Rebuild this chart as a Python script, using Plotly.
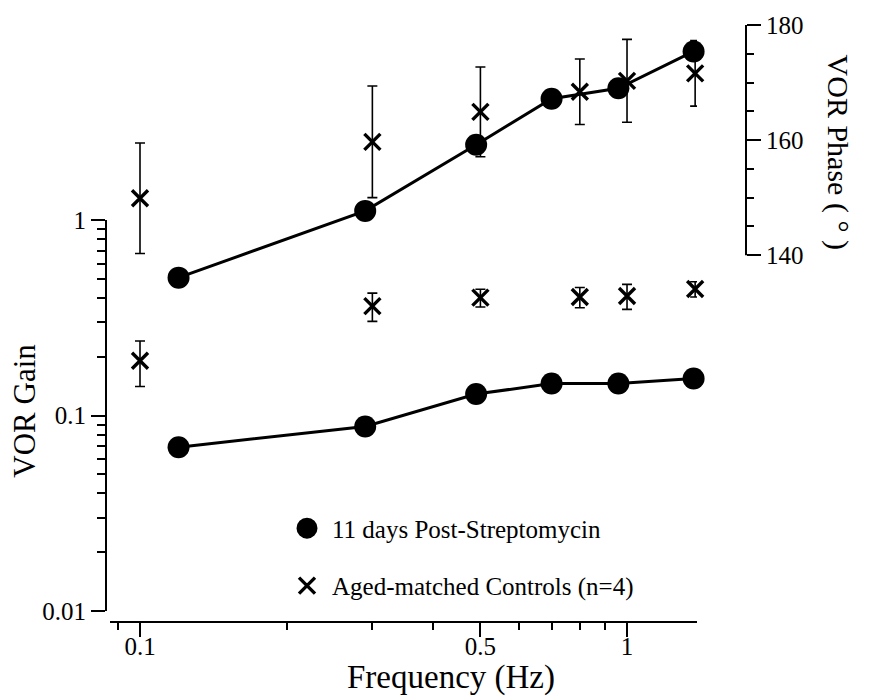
import plotly.graph_objects as go

# 11 days post-streptomycin (filled circles, joined)
strep_freq = [0.12, 0.29, 0.49, 0.70, 0.96, 1.37]
strep_gain = [0.069, 0.088, 0.129, 0.146, 0.146, 0.155]
strep_phase = [136.1, 147.7, 159.2, 167.2, 169.0, 175.4]

# Age-matched controls, n=4 (crosses, mean +/- SE)
ctrl_freq = [0.10, 0.30, 0.50, 0.80, 1.00, 1.38]
ctrl_gain = [0.191, 0.364, 0.402, 0.405, 0.410, 0.445]
ctrl_gain_err = [0.050, 0.060, 0.042, 0.048, 0.060, 0.040]
ctrl_phase = [149.9, 159.7, 164.9, 168.4, 170.3, 171.6]
ctrl_phase_err = [9.6, 9.7, 7.8, 5.7, 7.2, 5.7]

# Tick labels
freq_ticks = [0.1, 0.5, 1]
freq_ticktext = ["0.1", "0.5", "1"]
freq_minor = [0.09, 0.2, 0.3, 0.4, 0.6, 0.7, 0.8, 0.9]
gain_ticks = [0.01, 0.1, 1]
gain_ticktext = ["0.01", "0.1", "1"]
gain_minor = [0.02, 0.03, 0.04, 0.05, 0.06, 0.07, 0.08, 0.09,
              0.2, 0.3, 0.4, 0.5, 0.6, 0.7, 0.8, 0.9]
phase_ticks = [140, 160, 180]
phase_minor = [145, 150, 155, 165, 170, 175]

W, H = 871, 700
L, R, T, B = 106, 125, 23, 78
PW, PH = W - L - R, H - T - B


def fx(px):
    return (px - L) / PW


def fy(py):
    return (H - B - py) / PH


FONT = "Liberation Serif, Times New Roman, serif"
INK = "black"

fig = go.Figure()

err_style = dict(type="data", visible=True, thickness=1.6, width=5, color=INK)
x_marker = dict(symbol="x-thin", size=16, color=INK, line=dict(width=3.4, color=INK))
dot_marker = dict(symbol="circle", size=22, color=INK)

# Controls: gain and phase
fig.add_trace(go.Scatter(
    x=ctrl_freq, y=ctrl_gain, mode="markers", marker=x_marker,
    error_y=dict(array=ctrl_gain_err, **err_style),
    xaxis="x", yaxis="y", showlegend=False, cliponaxis=False))
fig.add_trace(go.Scatter(
    x=ctrl_freq, y=ctrl_phase, mode="markers", marker=x_marker,
    error_y=dict(array=ctrl_phase_err, **err_style),
    xaxis="x", yaxis="y2", showlegend=False, cliponaxis=False))

# Post-streptomycin: gain and phase
fig.add_trace(go.Scatter(
    x=strep_freq, y=strep_gain, mode="lines+markers", marker=dot_marker,
    line=dict(color=INK, width=3), xaxis="x", yaxis="y",
    showlegend=False, cliponaxis=False))
fig.add_trace(go.Scatter(
    x=strep_freq, y=strep_phase, mode="lines+markers", marker=dot_marker,
    line=dict(color=INK, width=3), xaxis="x", yaxis="y2",
    showlegend=False, cliponaxis=False))

# Legend entries (outlined dot so the legend symbol reaches full size)
fig.add_trace(go.Scatter(
    x=[None], y=[None], mode="markers",
    marker=dict(symbol="circle", size=16, color=INK, line=dict(width=5, color=INK)),
    name="11 days Post-Streptomycin", legendgroup="a"))
fig.add_trace(go.Scatter(
    x=[None], y=[None], mode="markers", marker=x_marker,
    name="Aged-matched Controls (n=4)", legendgroup="b"))

tick_font = dict(family=FONT, size=25, color=INK)
common = dict(showgrid=False, zeroline=False, ticks="outside", ticklen=14,
              tickwidth=2, tickcolor=INK, tickfont=tick_font)

fig.update_layout(
    width=W, height=H,
    margin=dict(l=L, r=R, t=T, b=B),
    paper_bgcolor="white", plot_bgcolor="rgba(0,0,0,0)",
    font=dict(family=FONT, color=INK),
    xaxis=dict(
        type="log", range=[-1.0616, 0.1437],
        domain=[fx(110), fx(697)], anchor="free", position=0,
        showline=True, linewidth=2, linecolor=INK,
        tickmode="array", tickvals=freq_ticks, ticktext=freq_ticktext,
        ticklabelstandoff=-12,
        minor=dict(tickmode="array", tickvals=freq_minor, ticks="outside",
                   ticklen=7, tickwidth=2, tickcolor=INK),
        **common),
    yaxis=dict(
        type="log", range=[-2, 0],
        domain=[fy(611), fy(219)], anchor="free", position=0,
        showline=True, linewidth=2, linecolor=INK,
        tickmode="array", tickvals=gain_ticks, ticktext=gain_ticktext,
        minor=dict(tickmode="array", tickvals=gain_minor, ticks="outside",
                   ticklen=8, tickwidth=2, tickcolor=INK),
        **common),
    yaxis2=dict(
        type="linear", range=[132.03, 180],
        domain=[fy(300), 1], anchor="free", position=1, side="right",
        showline=False,
        tickmode="array", tickvals=phase_ticks,
        minor=dict(tickmode="array", tickvals=phase_minor, ticks="outside",
                   ticklen=7, tickwidth=2, tickcolor=INK),
        **common),
    legend=dict(
        x=fx(282), y=fy(505), xanchor="left", yanchor="top",
        font=dict(family=FONT, size=25, color=INK),
        bgcolor="rgba(0,0,0,0)", tracegroupgap=22, itemwidth=40),
    showlegend=True,
)

# Phase axis spine, limited to the labelled 140-180 span
fig.add_shape(type="line", xref="paper", yref="y2", x0=1, x1=1, y0=140, y1=180,
              line=dict(color=INK, width=2))

title_font = dict(family=FONT, color=INK)
fig.add_annotation(text="VOR Gain", xref="paper", yref="paper",
                   x=fx(25), y=fy(410), xanchor="center", yanchor="middle",
                   textangle=-90, showarrow=False, font=dict(size=31, **title_font))
fig.add_annotation(text="Frequency (Hz)", xref="paper", yref="paper",
                   x=fx(451), y=fy(678), xanchor="center", yanchor="middle",
                   showarrow=False, font=dict(size=33, **title_font))
fig.add_annotation(text="VOR Phase ( ° )", xref="paper", yref="paper",
                   x=fx(838), y=fy(150), xanchor="center", yanchor="middle",
                   textangle=90, showarrow=False, font=dict(size=30, **title_font))

fig.write_html("out.html")
